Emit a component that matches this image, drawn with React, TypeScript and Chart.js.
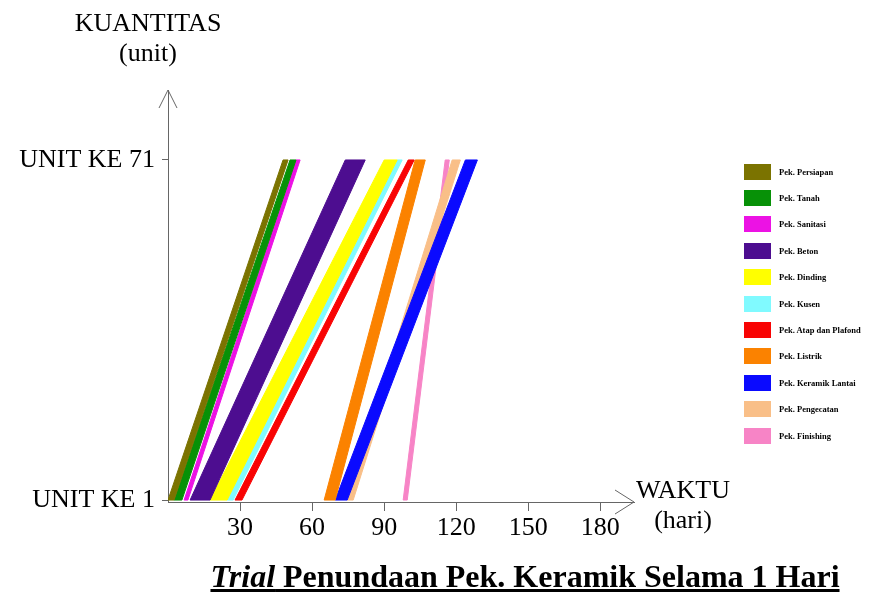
import React, { useEffect, useRef } from "react";
import { Chart, registerables } from "chart.js";

Chart.register(...registerables);

// Work items (legend order)
const taskNames = [
  "Pek. Persiapan",
  "Pek. Tanah",
  "Pek. Sanitasi",
  "Pek. Beton",
  "Pek. Dinding",
  "Pek. Kusen",
  "Pek. Atap dan Plafond",
  "Pek. Listrik",
  "Pek. Keramik Lantai",
  "Pek. Pengecatan",
  "Pek. Finishing",
];

const taskColors = [
  "#7b7300",
  "#079107",
  "#ec12e4",
  "#4d0d90",
  "#ffff00",
  "#80faff",
  "#f80404",
  "#fb8200",
  "#0a0aff",
  "#f9bf88",
  "#f784c6",
];

// Day at which each band starts (unit 1) – left and right edge
const startLeft = [0, 2.5, 6.7, 9.2, 17.5, 24.6, 27.9, 65, 69.6, 74.6, 97.9];
const startRight = [2.5, 5.8, 8.3, 17.5, 24.6, 27.1, 30.8, 69.6, 74.6, 77.1, 99.6];
// Day at which each band ends (unit 71) – left and right edge
const endLeft = [47.9, 50.8, 53.3, 73.8, 90, 95.4, 100, 102.9, 123.8, 118.3, 115.4];
const endRight = [50, 53.3, 55, 82.1, 95.4, 97.5, 102.5, 107.1, 128.8, 121.7, 117.1];

const unitFirst = 1;
const unitLast = 71;

const xTickValues = [30, 60, 90, 120, 150, 180];
const yTickValues = [1, 71];
const yTickLabels = ["UNIT KE 1", "UNIT KE 71"];

const SERIF = '"Liberation Serif", "Times New Roman", serif';

const arrowPlugin = {
  id: "axisArrows",
  afterDraw(chart: any) {
    const { ctx, chartArea: a } = chart;
    ctx.save();
    ctx.strokeStyle = "#666";
    ctx.lineWidth = 1;
    ctx.beginPath();
    ctx.moveTo(a.left - 9, a.top + 18);
    ctx.lineTo(a.left, a.top);
    ctx.lineTo(a.left + 9, a.top + 18);
    ctx.moveTo(a.right - 19, a.bottom - 12);
    ctx.lineTo(a.right, a.bottom);
    ctx.lineTo(a.right - 19, a.bottom + 12);
    ctx.stroke();
    ctx.restore();
  },
};

export default function App() {
  const canvasRef = useRef<HTMLCanvasElement | null>(null);

  useEffect(() => {
    if (!canvasRef.current) return;
    const datasets = taskNames.map((name, i) => ({
      label: name,
      data: [
        { x: startLeft[i], y: unitFirst },
        { x: startRight[i], y: unitFirst },
        { x: endRight[i], y: unitLast },
        { x: endLeft[i], y: unitLast },
        { x: startLeft[i], y: unitFirst },
      ],
      showLine: true,
      fill: "shape",
      backgroundColor: taskColors[i],
      borderColor: taskColors[i],
      borderWidth: 1,
      pointRadius: 0,
      pointHoverRadius: 0,
      tension: 0,
    }));

    const chart = new Chart(canvasRef.current, {
      type: "scatter",
      data: { datasets } as any,
      options: {
        responsive: false,
        animation: false,
        devicePixelRatio: 1,
        events: [],
        layout: { padding: { top: 90, right: 235, left: 0, bottom: 0 } },
        plugins: {
          legend: { display: false },
          tooltip: { enabled: false },
          title: { display: false },
        },
        scales: {
          x: {
            type: "linear",
            min: 0,
            max: 194,
            afterBuildTicks: (s: any) => {
              s.ticks = xTickValues.map((v) => ({ value: v }));
            },
            afterFit: (s: any) => {
              s.height = 96;
            },
            grid: {
              drawOnChartArea: false,
              drawTicks: true,
              tickLength: 9,
              color: "#666",
              lineWidth: 1,
            },
            border: { display: true, color: "#666", width: 1 },
            ticks: {
              color: "#000",
              font: { family: SERIF, size: 26 },
              padding: 2,
              maxRotation: 0,
              autoSkip: false,
            },
          },
          y: {
            type: "linear",
            min: 0.6,
            max: 85.4,
            afterBuildTicks: (s: any) => {
              s.ticks = yTickValues.map((v) => ({ value: v }));
            },
            afterFit: (s: any) => {
              s.width = 168;
            },
            grid: {
              drawOnChartArea: false,
              drawTicks: true,
              tickLength: 6,
              color: "#666",
              lineWidth: 1,
            },
            border: { display: true, color: "#666", width: 1 },
            ticks: {
              color: "#000",
              font: { family: SERIF, size: 26 },
              padding: 7,
              autoSkip: false,
              callback: (v: any) => {
                const idx = yTickValues.indexOf(Number(v));
                return idx >= 0 ? yTickLabels[idx] : "";
              },
            },
          },
        },
      } as any,
      plugins: [arrowPlugin],
    });
    return () => chart.destroy();
  }, []);

  const legendTop = 171.5;
  const legendStep = 26.4;

  return (
    <div
      style={{
        position: "absolute",
        left: 0,
        top: 0,
        width: 869,
        height: 598,
        background: "#fff",
        fontFamily: SERIF,
        color: "#000",
      }}
    >
      <canvas ref={canvasRef} width={869} height={598} style={{ width: 869, height: 598, display: "block" }} />

      <div
        style={{
          position: "absolute",
          left: 48,
          top: 8,
          width: 200,
          textAlign: "center",
          fontSize: 26,
          lineHeight: "30px",
        }}
      >
        KUANTITAS
        <br />
        (unit)
      </div>

      <div
        style={{
          position: "absolute",
          left: 603,
          top: 475,
          width: 160,
          textAlign: "center",
          fontSize: 26,
          lineHeight: "30px",
        }}
      >
        WAKTU
        <br />
        (hari)
      </div>

      <div
        style={{
          position: "absolute",
          left: 165,
          top: 558,
          width: 720,
          textAlign: "center",
          fontSize: 32,
          lineHeight: "36px",
          fontWeight: "bold",
          textDecoration: "underline",
          whiteSpace: "nowrap",
        }}
      >
        <i>Trial</i> Penundaan Pek. Keramik Selama 1 Hari
      </div>

      {taskNames.map((name, i) => (
        <div
          key={name}
          style={{
            position: "absolute",
            left: 744,
            top: legendTop + i * legendStep - 8,
            height: 16,
            display: "flex",
            alignItems: "center",
            whiteSpace: "nowrap",
          }}
        >
          <div style={{ width: 27, height: 16, background: taskColors[i] }} />
          <div style={{ marginLeft: 8, fontSize: 8.5, fontWeight: "bold", lineHeight: "16px" }}>{name}</div>
        </div>
      ))}
    </div>
  );
}
